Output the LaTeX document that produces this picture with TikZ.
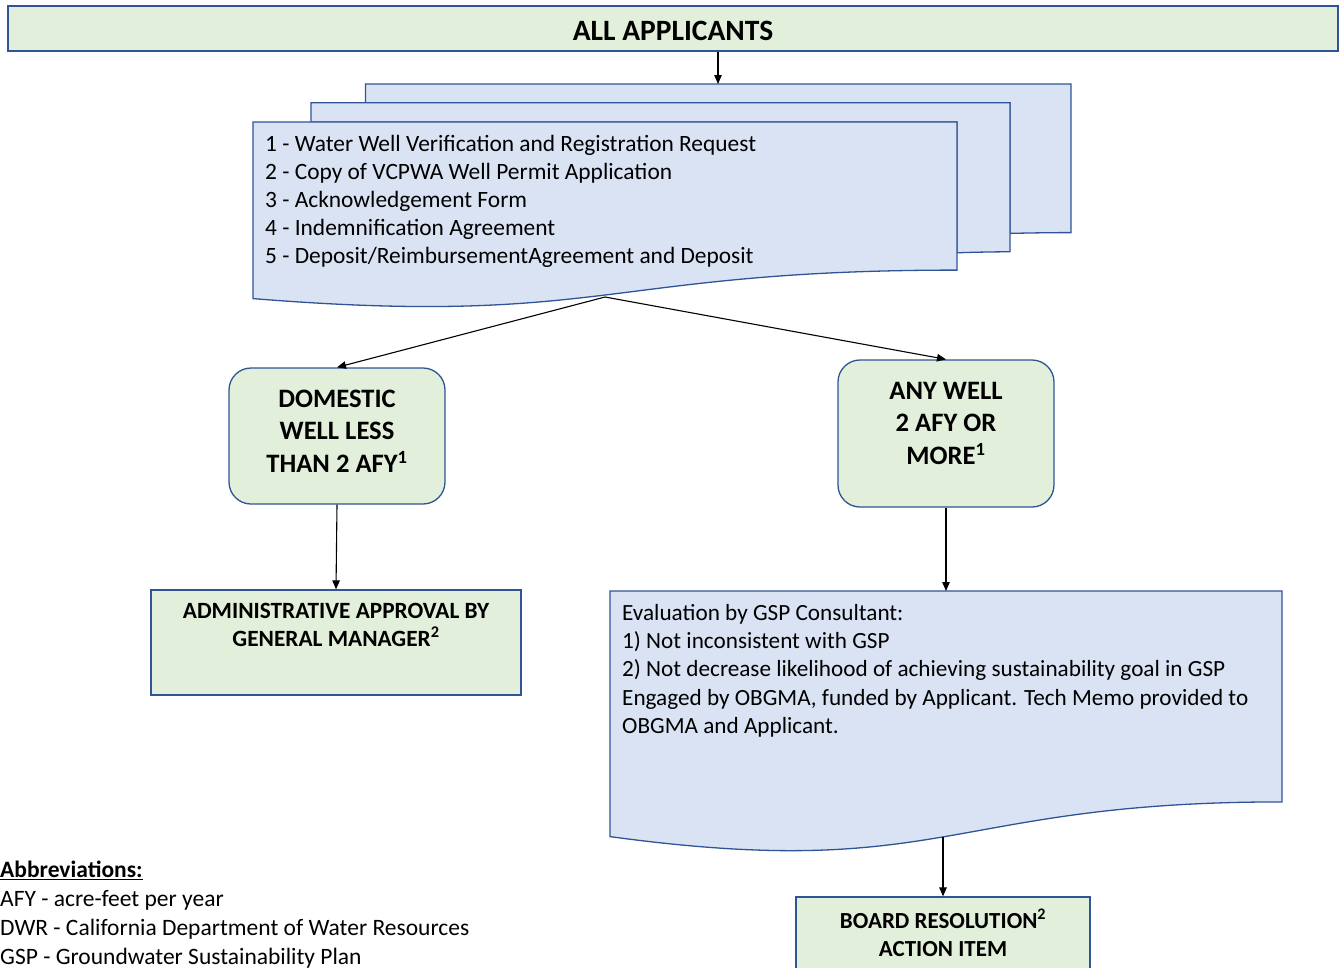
\documentclass[tikz,border=0pt]{standalone}
\usepackage{fontspec}
\setmainfont{Carlito}
\usetikzlibrary{arrows.meta}
\definecolor{gfill}{HTML}{E2EFDA}
\definecolor{bfill}{HTML}{DAE3F3}
\definecolor{edgec}{HTML}{2F5597}
\begin{document}
\begin{tikzpicture}[x=1pt,y=-1pt,
  box/.style={draw=edgec,line width=1.3pt,fill=gfill,inner sep=0pt},
  rbox/.style={box,rounded corners=22pt},
  doc/.style={draw=edgec,line width=1.3pt,fill=bfill},
  conn/.style={-{Triangle[length=9pt,width=7.5pt]},line width=1.1pt,black},
  blbl/.style={font=\fontsize{26.6}{32.5}\selectfont\bfseries,align=center,inner sep=0pt},
  slbl/.style={font=\fontsize{23.3}{28}\selectfont\bfseries,align=center,inner sep=0pt},
  txt/.style={font=\fontsize{23.4}{28.1}\selectfont,align=left,inner sep=0pt,anchor=north west},
]
\useasboundingbox (0,0) rectangle (1343,967);

% top bar
\node[box,minimum width=1330pt,minimum height=45pt] (all) at (673,28.5) {};
\node[font=\fontsize{29.5}{32}\selectfont\bfseries,inner sep=0pt] (allt) at (673,31) {ALL APPLICANTS};

% multi-document
\path[doc] (365.5,84) -- (1071,84) -- (1071,232.6)
  .. controls (1040.7,232.6) and (1010,233.4) .. (1010,233.4)
  -- (1010,102.7) -- (365.5,102.7) -- cycle;
\path[doc] (311,102.7) -- (1010,102.7) -- (1010,251.8)
  .. controls (983.8,251.8) and (957,252.8) .. (957,252.8)
  -- (957,121.9) -- (311,121.9) -- cycle;
\path[doc] (253,121.9) -- (957,121.9) -- (957,270.1)
  .. controls (605.1,270.1) and (605.1,327) .. (253,298.6) -- cycle;
\coordinate (mdtop) at (718,84);
\coordinate (mdbot) at (605,297);
\node[txt] (list) at (265,135) {1 - Water Well Verification and Registration Request\\
2 - Copy of VCPWA Well Permit Application\\
3 - Acknowledgement Form\\
4 - Indemnification Agreement\\
5 - Deposit/ReimbursementAgreement and Deposit};

% rounded decision boxes
\node[rbox,minimum width=216pt,minimum height=136pt] (dom) at (337,436) {};
\node[blbl] (domt) at (337,431) {DOMESTIC\\WELL LESS\\THAN 2 AFY\textsuperscript{1}};
\node[rbox,minimum width=216pt,minimum height=147pt] (any) at (946,433.5) {};
\node[blbl] (anyt) at (946,423) {ANY WELL\\2 AFY OR\\MORE\textsuperscript{1}};

% admin box
\node[box,minimum width=370pt,minimum height=105pt] (adm) at (336,642.5) {};
\node[slbl] (admt) at (336,625) {ADMINISTRATIVE APPROVAL BY\\GENERAL MANAGER\textsuperscript{2}};

% evaluation document
\path[doc] (610,591) -- (1282,591) -- (1282,801.9)
  .. controls (946,801.9) and (946,882.3) .. (610,836.6) -- cycle;
\coordinate (evtop) at (946,591);
\coordinate (evbot) at (943,837);
\node[txt,font=\fontsize{23.2}{28.3}\selectfont] (evt) at (622,604) {Evaluation by GSP Consultant:\\
1) Not inconsistent with GSP\\
2) Not decrease likelihood of achieving sustainability goal in GSP\\
Engaged by OBGMA, funded by Applicant. Tech Memo provided to\\
OBGMA and Applicant.};

% board box
\node[box,minimum width=294pt,minimum height=100pt] (brd) at (943,947) {};
\node[slbl,font=\fontsize{23}{28}\selectfont\bfseries] (brdt) at (943,932.5) {BOARD RESOLUTION\textsuperscript{2}\\ACTION ITEM};

% abbreviations
\node[txt,font=\fontsize{23.5}{29.2}\selectfont] (abbr) at (0,860.5) {\textbf{\underline{Abbreviations:}}\\
AFY - acre-feet per year\\
DWR - California Department of Water Resources\\
GSP - Groundwater Sustainability Plan};

% connectors
\draw[conn] (all.south -| mdtop) -- (mdtop);
\draw[conn] (mdbot) -- (dom.north);
\draw[conn] (mdbot) -- (any.north);
\draw[conn] (dom.south) -- (adm.north);
\draw[conn] (any.south) -- (evtop);
\draw[conn] (evbot) -- (brd.north);
\end{tikzpicture}
\end{document}
